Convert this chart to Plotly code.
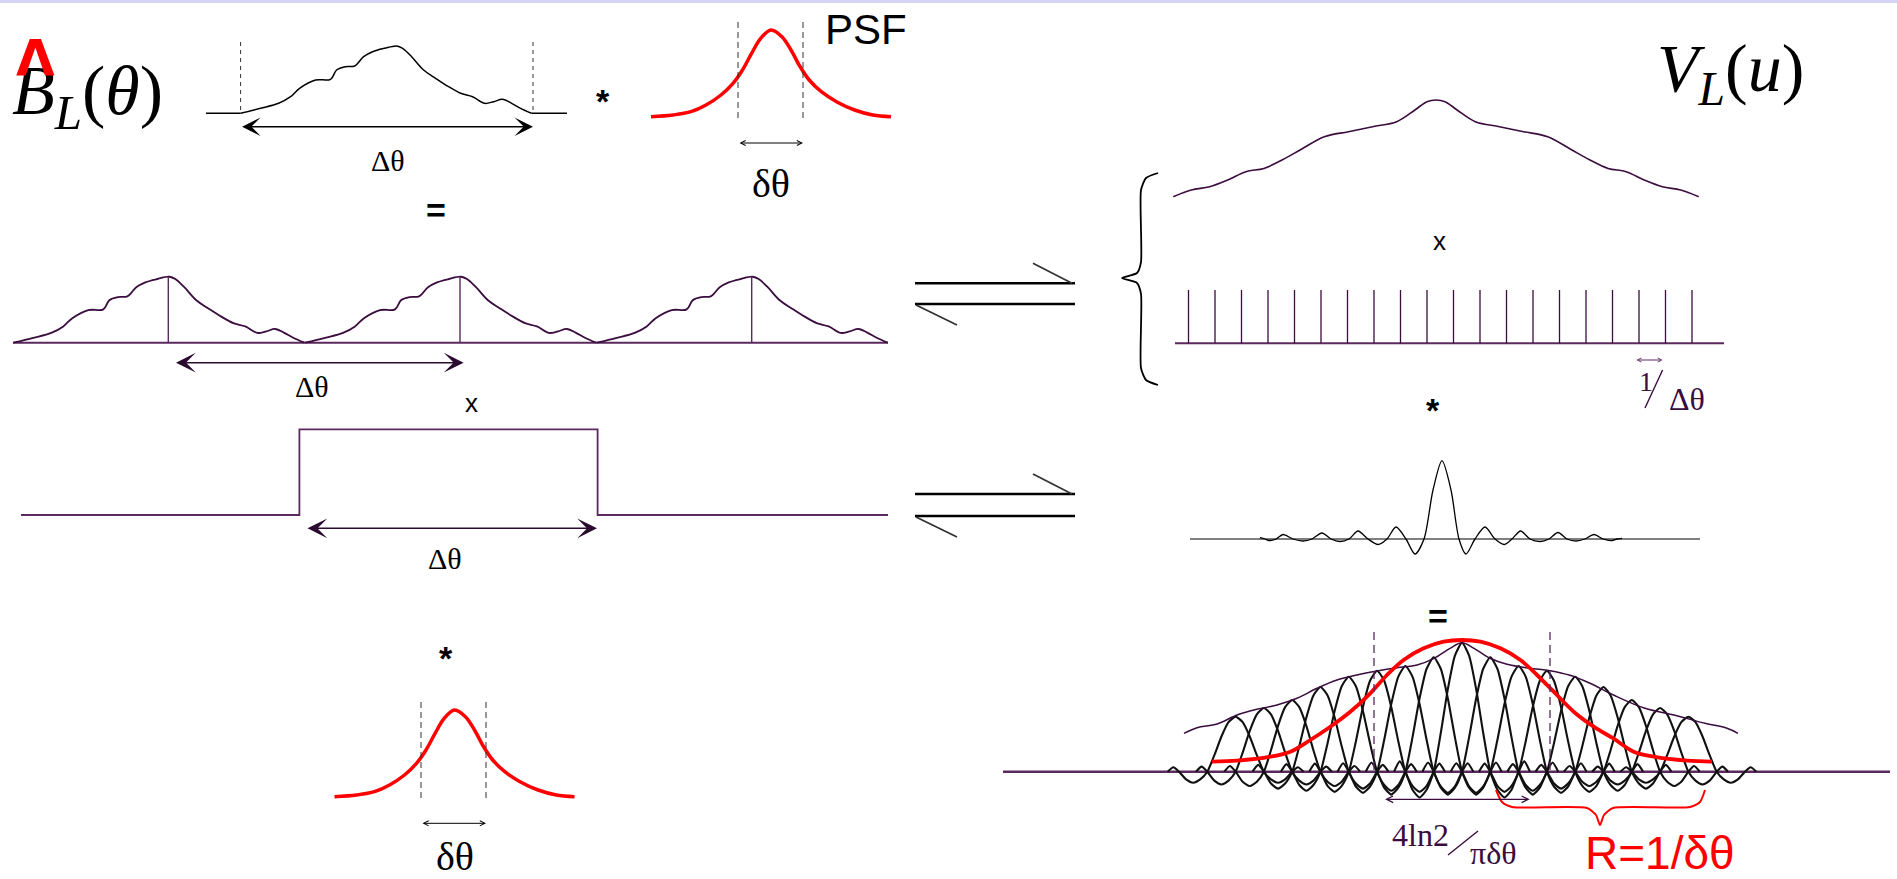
import plotly.graph_objects as go

W, H = 1897, 879

# ---------------- data ----------------
# source brightness profile B_L(theta): offset along profile (px) and height above baseline
BL_X = [0, 20, 38, 50, 59, 75, 90, 96, 105, 114, 123, 132, 144, 156, 162, 171, 183, 195, 208, 220, 232, 244, 253, 262, 271, 280, 291]
BL_Y = [0, 5, 10, 16.6, 25, 33.3, 34, 43.3, 46.6, 47.3, 56.6, 61.6, 65, 67.3, 65, 56.6, 43.3, 35, 26.6, 20, 16.6, 10, 11.6, 14, 10, 5, 0]

# point spread function (red)
PSF_DX = [-120, -98, -80, -65, -50, -38, -28.5, -19.4, -10.3, 0, 10.9, 20, 29.1, 38.2, 50.3, 65.5, 83.6, 101.8, 120]
PSF_H = [0, 1.7, 5, 11.7, 21.7, 33.3, 46.7, 63.3, 78.3, 86.7, 80, 66.7, 50, 36.7, 25, 15, 6.7, 1.7, 0]

# visibility envelope V_L(u)
VIS_DX = [-262.7, -244.6, -226.4, -208.3, -190.2, -172.1, -154, -135.9, -111.7, -87.6, -63.4, -39.3, -21.1, -9.1, 0,
          9.1, 21.1, 39.3, 63.4, 87.6, 111.7, 135.9, 154, 172.1, 190.2, 208.3, 226.4, 244.6, 262.7]
VIS_H = [0, 6.7, 10, 16.7, 25, 28.3, 36.7, 46.7, 60, 65, 70, 75, 86.7, 95, 96.7,
         95, 86.7, 75, 70, 65, 60, 46.7, 36.7, 28.3, 25, 16.7, 10, 6.7, 0]

# Dirac comb (sampling in u)
COMB_IDX = [0, 1, 2, 3, 4, 5, 6, 7, 8, 9, 10, 11, 12, 13, 14, 15, 16, 17, 18, 19]
COMB_H = [1, 1, 1, 1, 1, 1, 1, 1, 1, 1, 1, 1, 1, 1, 1, 1, 1, 1, 1, 1]

# sinc (transform of the window)
SINC_DX = [-182, -177, -173, -166, -159, -149, -139, -130, -120, -111, -102, -93, -84, -74, -64, -55, -46, -36, -27, -18,
           -9, 0, 9, 17, 24, 33, 43, 53, 62.5, 70, 78.6, 88, 98, 107, 116, 125, 134, 143, 152, 161, 170, 175, 180]
SINC_H = [1.3, 0, -1.5, 0, 4.5, 0, -2, 0, 6, 0, -2.5, 0, 8, 0, -5.5, 0, 12, 0, -15, 0,
          49, 78.3, 49, 0, -15, 0, 12, 0, -5.5, 0, 8, 0, -2.5, 0, 6.5, 0, -2, 0, 4.5, 0, -1.5, 0, 0.7]

# result: envelope, sampled lobes, red gaussian
ENV_DX = [-278, -265, -245, -225, -205, -185, -165, -145, -125, -105, -85, -65, -45, -28, -12, 0,
          12, 28, 45, 68, 88, 108, 128, 152, 183, 213, 243, 265, 276]
ENV_H = [0, 5.6, 9.3, 18.3, 24, 28.3, 35, 45, 53.3, 58.3, 62.3, 65.6, 68.3, 75, 85, 90.6,
         85, 75, 69, 65, 62.6, 58, 50, 38, 25, 18, 10, 5, 0]
LOBE_K = [-8, -7, -6, -5, -4, -3, -2, -1, 0, 1, 2, 3, 4, 5, 6, 7, 8]
LOBE_H = [55, 63.7, 71.7, 84.7, 95, 101, 105.7, 114.4, 129, 114.4, 105.7, 101, 95, 84.7, 71.7, 63.7, 55]
LOBE_TX = [-2.4, -2.2, -2.0, -1.75, -1.5, -1.25, -1.0, -0.75, -0.5, -0.25, 0,
           0.25, 0.5, 0.75, 1.0, 1.25, 1.5, 1.75, 2.0, 2.2, 2.4]
LOBE_TY = [0, 0.08, 0, -0.14, -0.2, -0.14, 0, 0.3, 0.64, 0.9, 1,
           0.9, 0.64, 0.3, 0, -0.14, -0.2, -0.14, 0, 0.08, 0]
GAUSS_DX = [-250, -225, -191.7, -171.7, -151.7, -131.7, -111.7, -91.7, -75, -58.4, -38.4, -18.4, 0,
            18.4, 38.4, 58.4, 75, 91.7, 111.7, 131.7, 151.7, 171.7, 191.7, 225, 250]
GAUSS_H = [0, 1, 5, 10, 21.7, 35, 50, 68.4, 86.7, 101.7, 113.4, 120, 121.7,
           120, 113.4, 101.7, 86.7, 70, 50, 35, 23, 10, 5, 1, 0]

# brace shapes (relative)
BRACE_DX = [36, 24, 19, 19, 15, 0, 15, 19, 19, 24, 36]
BRACE_DY = [0, 5, 17, 89, 100, 105, 110, 121, 195, 207, 212]
RBRACE_DX = [0, 6, 16, 91, 100, 104, 108, 117, 194, 204, 209]
RBRACE_DY = [0, 12, 17, 18, 25, 35, 25, 18, 17, 12, 0]

# ---------------- layout positions ----------------
PURPLE = "#3a0d3e"
PURPLE2 = "#5a2a5e"
RED = "#ff0000"

fig = go.Figure()


def line(xs, ys, color="black", width=1.6, shape="spline", dash=None, smoothing=1.0):
    d = dict(color=color, width=width)
    if shape == "spline":
        d["shape"] = "spline"
        d["smoothing"] = smoothing
    if dash:
        d["dash"] = dash
    fig.add_trace(go.Scatter(x=xs, y=ys, mode="lines", line=d, hoverinfo="skip", showlegend=False))


# Row 1: B_L(theta)
x0, base = 240.6, 113.3
line([206, x0], [base, base], "black", 1.6, "linear")
line([x0 + v for v in BL_X], [base - v for v in BL_Y], "black", 1.5)
line([x0 + BL_X[-1], 567], [base, base], "black", 1.6, "linear")

# PSF top
cx, base = 771, 116.7
line([cx + v for v in PSF_DX], [base - v for v in PSF_H], RED, 3.5)
# PSF bottom-left
cx2, base2 = 454.5, 796.7
line([cx2 + v for v in PSF_DX], [base2 - v for v in PSF_H], RED, 3.5)

# Row 2: periodic replication
starts = [13.3, 305.0, 596.7]
base = 342.7
line([13, 888], [base, base], PURPLE2, 2, "linear")
for s in starts:
    line([s + v for v in BL_X], [base - 0.98 * v for v in BL_Y], PURPLE, 1.8)
    pk = s + 155
    line([pk, pk], [base, base - 0.98 * max(BL_Y)], PURPLE2, 1.4, "linear")

# Row 3: window box
b3, top3 = 515, 429.3
bx0, bx1 = 299.4, 597.6
line([21, bx0, bx0, bx1, bx1, 888], [b3, b3, top3, top3, b3, b3], PURPLE2, 1.8, "linear")

# Right top: visibility envelope
vc, vb = 1436, 196.7
line([vc + v for v in VIS_DX], [vb - v for v in VIS_H], PURPLE, 1.6)

# comb
cb, c0, cs, ch = 343.3, 1188.5, 26.5, 53.3
line([1175, 1724], [cb, cb], PURPLE2, 2, "linear")
for i, hh in zip(COMB_IDX, COMB_H):
    xx = c0 + i * cs
    line([xx, xx], [cb, cb - ch * hh], PURPLE, 1.3, "linear")

# sinc
sc, sb = 1442, 539
line([1190, 1700], [sb, sb], "#555555", 1.5, "linear")
line([sc + v for v in SINC_DX], [sb - v for v in SINC_H], "black", 1.3, smoothing=0.8)

# Bottom right result
lc, ls, lb = 1462, 28.3, 771.7
line([1003, 1890], [lb, lb], PURPLE2, 2.4, "linear")
for k, hh in zip(LOBE_K, LOBE_H):
    line([lc + (k + t) * ls for t in LOBE_TX], [lb - hh * v for v in LOBE_TY], "#111111", 2.1, smoothing=0.6)
ec, eb = 1462, 733.3
line([ec + v for v in ENV_DX], [eb - v for v in ENV_H], PURPLE, 1.5)
gc, gb = 1462, 761.7
line([gc + v for v in GAUSS_DX], [gb - v for v in GAUSS_H], RED, 3.8)

# braces
line([1122 + v for v in BRACE_DX], [173 + v for v in BRACE_DY], "black", 1.8, smoothing=0.6)
line([1496 + v for v in RBRACE_DX], [790 + v for v in RBRACE_DY], RED, 2, smoothing=0.6)

# ---------------- shapes ----------------
shapes = []


def seg(x0, y0, x1, y1, color="black", width=1, dash=None):
    d = dict(color=color, width=width)
    if dash:
        d["dash"] = dash
    shapes.append(dict(type="line", xref="x", yref="y", x0=x0, y0=y0, x1=x1, y1=y1, line=d, layer="above"))


# top border
shapes.append(dict(type="rect", xref="x", yref="y", x0=0, x1=W, y0=0, y1=3, fillcolor="#d4d4f4", line=dict(width=0)))

# dashed markers
for xx in (240.6, 533):
    seg(xx, 42, xx, 113, "#333333", 1, "4px,4px")
for xx in (738, 803):
    seg(xx, 22, xx, 120, "#333333", 1, "6px,4px")
for xx in (421, 486):
    seg(xx, 702, xx, 800, "#333333", 1, "6px,4px")
for xx in (1374, 1550):
    seg(xx, 632, xx, 770, PURPLE2, 1.3, "8px,5px")

# harpoons
for ytop, ybot in ((283.3, 304), (494, 516)):
    seg(915, ytop, 1075, ytop, "black", 2.4)
    seg(1033, ytop - 20, 1072, ytop, "#333333", 1.8)
    seg(915, ybot, 1075, ybot, "black", 2.4)
    seg(916, ybot + 1, 957, ybot + 21, "#333333", 1.8)

# fraction slashes
seg(1645, 408, 1662.6, 370, PURPLE, 1.4)
seg(1448, 855, 1478, 831, PURPLE, 1.4)

# ---------------- annotations ----------------
ann = []


def arrow(x0, x1, y, color="black", head=3, size=1.6, width=1.5):
    ann.append(dict(x=x1, y=y, ax=x0, ay=y, xref="x", yref="y", axref="x", ayref="y", text="",
                    showarrow=True, arrowhead=head, startarrowhead=head, arrowside="end+start",
                    arrowsize=size, startarrowsize=size, arrowwidth=width, arrowcolor=color))


arrow(240.6, 533, 126.7, "black", 3, 2.2, 1.4)
arrow(174.5, 463.6, 362.7, "#2a0a2e", 3, 2.2, 1.5)
arrow(306, 597, 528.3, "#2a0a2e", 3, 2.2, 1.5)
arrow(738, 803, 143, "black", 5, 1.0, 1)
arrow(421, 486, 823.3, "black", 5, 1.0, 1)
arrow(1635, 1662.6, 360, PURPLE2, 5, 0.8, 1)
arrow(1383.6, 1529.7, 799.3, PURPLE, 5, 1.0, 1.3)


def txt(x, y, s, size, color="black", family="Liberation Serif", xanchor="center"):
    ann.append(dict(x=x, y=y, xref="x", yref="y", text=s, showarrow=False, xanchor=xanchor, yanchor="middle",
                    font=dict(size=size, color=color, family=family)))


SANS = "Liberation Sans"
txt(10, 96, "<i>B</i><sub><i>L</i></sub>(<i>θ</i>)", 70, "black", "Liberation Serif", "left")
txt(35, 58, "<b>Λ</b>", 50, RED, "DejaVu Sans")
txt(866, 29, "PSF", 42, "black", SANS)
txt(388, 160, "Δθ", 30)
txt(312, 386, "Δθ", 30)
txt(445, 558, "Δθ", 30)
txt(771, 183, "δθ", 40)
txt(454.5, 856, "δθ", 40)
txt(603, 101, "<b>*</b>", 34, "black", SANS)
txt(445.5, 658, "<b>*</b>", 34, "black", SANS)
txt(1433, 410, "<b>*</b>", 34, "black", SANS)
txt(436, 210, "<b>=</b>", 34, "black", SANS)
txt(1438, 616, "<b>=</b>", 34, "black", SANS)
txt(471.5, 403, "x", 26, "black", SANS)
txt(1439, 241, "x", 26, "black", SANS)
txt(1655, 72, "<i>V</i><sub><i>L</i></sub>(<i>u</i>)", 68, "black", "Liberation Serif", "left")
txt(1646, 381, "1", 28, PURPLE)
txt(1687, 399, "Δθ", 32, PURPLE)
txt(1420, 835, "4ln2", 32, PURPLE)
txt(1493, 853, "πδθ", 32, PURPLE)
txt(1660, 853, "R=1/δθ", 46, RED, SANS)

fig.update_layout(
    width=W, height=H, margin=dict(l=0, r=0, t=0, b=0),
    paper_bgcolor="white", plot_bgcolor="white",
    xaxis=dict(range=[0, W], visible=False, fixedrange=True),
    yaxis=dict(range=[H, 0], visible=False, fixedrange=True),
    shapes=shapes, annotations=ann, showlegend=False,
)
fig.write_html("out.html", config={"displayModeBar": False},
               post_script="document.body.style.margin='0';")
